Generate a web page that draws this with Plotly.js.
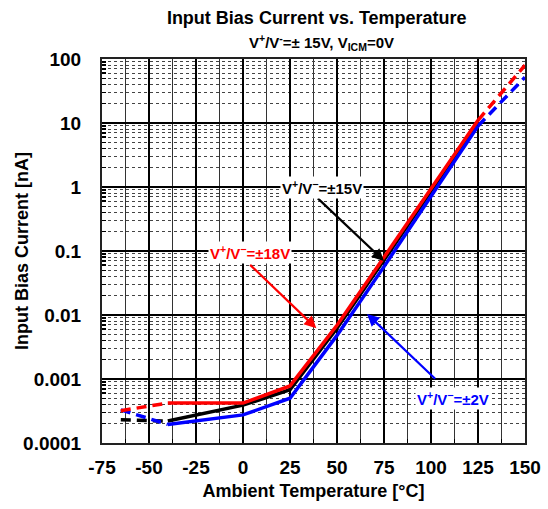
<!DOCTYPE html>
<html>
<head>
<meta charset="utf-8">
<script src="https://cdn.plot.ly/plotly-3.0.1.min.js"></script>
<style>html,body{margin:0;padding:0;background:#fff;}#chart{width:548px;height:509px;}</style>
</head>
<body>
<div id="chart"></div>
<script>
// ---- data ----
const tempsSolid = [-40, 0, 25, 50, 75, 100, 125];
const red18Solid = [0.00042, 0.00042, 0.00078, 0.0069, 0.08, 0.95, 11];
const black15Solid = [0.00022, 0.00039, 0.00068, 0.0062, 0.072, 0.88, 10.3];
const blue2Solid = [0.000195, 0.000275, 0.0005, 0.0048, 0.057, 0.7, 9.0];

const tempsLow = [-65, -40];
const red18Low = [0.00032, 0.00042];
const black15Low = [0.00023, 0.00022];
const blue2Low = [0.00033, 0.000195];

const tempsHigh = [125, 150];
const red18High = [11, 80];
const blue2High = [9.0, 52];

const xTicks = [-75, -50, -25, 0, 25, 50, 75, 100, 125, 150];
const xTickText = ['-75', '-50', '-25', '0', '25', '50', '75', '100', '125', '150'];
const yTicks = [0.0001, 0.001, 0.01, 0.1, 1, 10, 100];
const yTickText = ['0.0001', '0.001', '0.01', '0.1', '1', '10', '100'];

const FONT = 'Liberation Sans, Arial, sans-serif';
const RED = '#ff0000', BLUE = '#0000ff', BLACK = '#000000';
const LW = 3.5;

// minor log tick positions (2..9 in each decade)
const yMinor = [];
for (let d = -4; d < 2; d++) for (let m = 2; m <= 9; m++) yMinor.push(m * Math.pow(10, d));

const bold = s => '<b>' + s + '</b>';

function line(x, y, color, dash) {
  return {x: x, y: y, type: 'scatter', mode: 'lines', hoverinfo: 'skip', showlegend: false,
          line: {color: color, width: LW, dash: dash || 'solid'}};
}

const traces = [
  line(tempsLow, black15Low, BLACK, '10px,6px'),
  line(tempsSolid, black15Solid, BLACK),
  line(tempsLow, blue2Low, BLUE, '10px,6px'),
  line(tempsHigh, blue2High, BLUE, '10px,6px'),
  line(tempsSolid, blue2Solid, BLUE),
  line(tempsLow, red18Low, RED, '10px,6px'),
  line(tempsHigh, red18High, RED, '10px,6px'),
  line(tempsSolid, red18Solid, RED)
];

const L = Math.log10;
function label(x, y, text, color) {
  return {x: x, y: L(y), xref: 'x', yref: 'y', text: bold(text), showarrow: false,
          font: {family: FONT, size: 15, color: color}, bgcolor: '#ffffff', borderpad: 1};
}
function arrow(x, y, ax, ay, color) {
  return {x: x, y: L(y), ax: ax, ay: L(ay), xref: 'x', yref: 'y', axref: 'x', ayref: 'y',
          text: '', showarrow: true, arrowhead: 2, arrowsize: 1.1, arrowwidth: 2.2, arrowcolor: color};
}

const layout = {
  width: 548, height: 509,
  margin: {l: 102, r: 23, t: 59, b: 66},
  paper_bgcolor: '#ffffff', plot_bgcolor: '#ffffff',
  font: {family: FONT, color: '#000'},
  title: {text: bold('Input Bias Current vs. Temperature'), x: 0.578, xanchor: 'center',
          y: 0.965, yanchor: 'middle', font: {family: FONT, size: 18, color: '#000'}},
  xaxis: {
    range: [-75, 150], tickmode: 'array', tickvals: xTicks, ticktext: xTickText.map(bold),
    ticks: 'inside', ticklen: 6, tickwidth: 1.5, tickcolor: '#000', ticklabelstandoff: 6,
    showline: true, linecolor: '#222', linewidth: 2, mirror: true,
    showgrid: true, gridcolor: '#000', gridwidth: 1.5,
    zeroline: false,
    tickfont: {family: FONT, size: 19, color: '#000'},
    title: {text: bold('Ambient Temperature [°C]'), font: {family: FONT, size: 18, color: '#000'}, standoff: 8},
    minor: {dtick: 12.5, tick0: -75, showgrid: true, gridcolor: '#333', gridwidth: 1,
            ticks: 'inside', ticklen: 4, tickcolor: '#000'}
  },
  yaxis: {
    type: 'log', range: [-4, 2], tickmode: 'array', tickvals: yTicks, ticktext: yTickText.map(bold),
    ticks: 'inside', ticklen: 6, tickwidth: 1.5, tickcolor: '#000', ticklabelstandoff: 15,
    showline: true, linecolor: '#222', linewidth: 2, mirror: true,
    showgrid: true, gridcolor: '#000', gridwidth: 1.5,
    zeroline: false,
    tickfont: {family: FONT, size: 19, color: '#000'},
    minor: {tickmode: 'array', tickvals: yMinor, showgrid: true, gridcolor: '#444', gridwidth: 1,
            griddash: 'dot', ticks: 'inside', ticklen: 4, tickcolor: '#000'}
  },
  annotations: [
    {xref: 'paper', yref: 'paper', x: 0.52, y: 1.042, yanchor: 'middle', showarrow: false,
     text: bold('V<sup>+</sup>/V<sup>-</sup>=± 15V, V<sub>ICM</sub>=0V'),
     font: {family: FONT, size: 15, color: '#000'}},
    {xref: 'paper', yref: 'paper', x: -0.189, y: 0.5, xanchor: 'center', yanchor: 'middle',
     textangle: -90, showarrow: false, text: bold('Input Bias Current [nA]'),
     font: {family: FONT, size: 18, color: '#000'}},
    arrow(75, 0.07, 39, 0.70, BLACK),
    arrow(39, 0.0062, 3, 0.064, RED),
    arrow(66, 0.0104, 103, 0.00096, BLUE),
    label(42, 1.0, 'V<sup>+</sup>/V<sup>−</sup>=±15V', BLACK),
    label(3.7, 0.096, 'V<sup>+</sup>/V<sup>−</sup>=±18V', RED),
    label(111.7, 0.00049, 'V<sup>+</sup>/V<sup>−</sup>=±2V', BLUE)
  ]
};

Plotly.newPlot('chart', traces, layout, {staticPlot: true, displayModeBar: false});
</script>
</body>
</html>
